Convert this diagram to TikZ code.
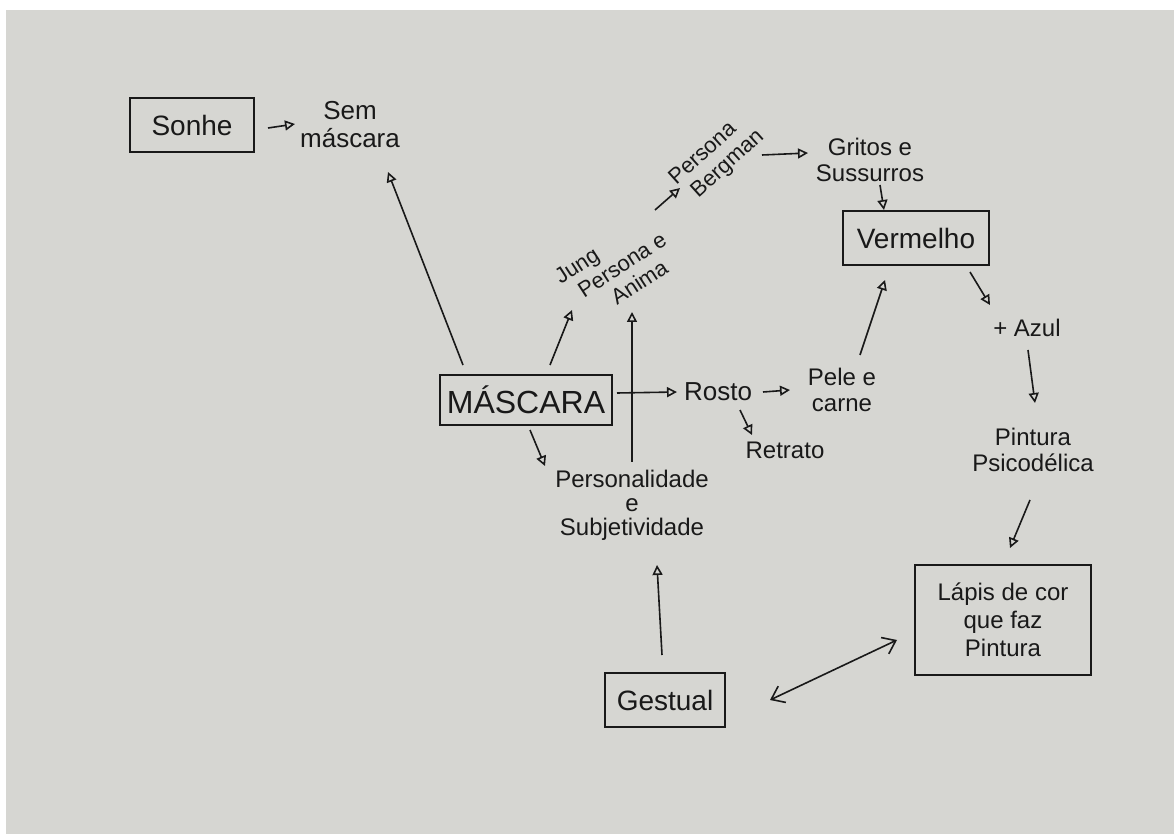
\documentclass[tikz,border=0pt]{standalone}
\usepackage{fontspec}
\setmainfont{Liberation Sans}
\usetikzlibrary{arrows.meta,calc}
\definecolor{paper}{RGB}{214,214,210}
\definecolor{ink}{RGB}{25,25,25}
\begin{document}
\begin{tikzpicture}[x=0.5pt,y=-0.5pt,
  box/.style={draw=ink, line width=0.9pt, inner sep=0pt, align=center, text=ink, font=\fontsize{14}{16}\selectfont},
  lbl/.style={align=center, text=ink, inner sep=1pt, font=\fontsize{12}{13}\selectfont},
  arr/.style={draw=ink, line width=0.8pt, -{Triangle[open,length=5pt,width=5pt]}},
  dbl/.style={draw=ink, line width=0.8pt, {Straight Barb[length=6pt,width=9pt]}-{Straight Barb[length=6pt,width=9pt]}}
]
\useasboundingbox (0,0) rectangle (1174,834);
\fill[white] (0,0) rectangle (1174,834);
\fill[paper] (6,10) rectangle (1174,834);

% nodes
\node[box, minimum width=62pt, minimum height=27pt] (sonhe) at (192,125) {Sonhe};
\node[lbl, font=\fontsize{13}{14}\selectfont] (sem) at (350,125) {Sem\\máscara};
\node[box, minimum width=86pt, minimum height=25pt, font=\fontsize{16}{18}\selectfont] (mascara) at (526,400) {MÁSCARA};
\node[lbl, rotate=33, align=left, font=\fontsize{11}{12}\selectfont] (jung) at (617,268) {Jung\\\hspace*{6pt}Persona e\\\hspace*{18pt}Anima};
\node[lbl, rotate=42, align=left, font=\fontsize{11}{12}\selectfont] (berg) at (717,158) {Persona\\\hspace*{4pt}Bergman};
\node[lbl] (gritos) at (870,160) {Gritos e\\Sussurros};
\node[box, minimum width=73pt, minimum height=27pt] (verm) at (916,238) {Vermelho};
\node[lbl, font=\fontsize{13}{14}\selectfont] (rosto) at (718,392) {Rosto};
\node[lbl] (pele) at (842,390) {Pele e\\carne};
\node[lbl] (retrato) at (785,450) {Retrato};
\node[lbl] (azul) at (1027,328) {+ Azul};
\node[lbl] (pint) at (1033,450) {Pintura\\Psicodélica};
\node[box, minimum width=88pt, minimum height=55pt, font=\fontsize{12}{14}\selectfont] (lapis) at (1003,620) {Lápis de cor\\que faz\\Pintura};
\node[lbl, font=\fontsize{12}{12}\selectfont] (pers) at (632,505) {Personalidade\\e\\Subjetividade};
\node[box, minimum width=60pt, minimum height=27pt] (gest) at (665,700) {Gestual};

% connectors
\draw[arr] ($(sonhe)+(76,3)$) -- ($(sem)+(-55,-1)$);
\draw[arr] ($(mascara)+(-63,-35)$) -- ($(sem)+(38,47)$);
\draw[arr] ($(mascara)+(24,-35)$) -- ($(jung)+(-45,42)$);
\draw[arr] ($(jung)+(38,-58)$) -- ($(berg)+(-37,30)$);
\draw[arr] ($(berg)+(45,-3)$) -- ($(gritos)+(-62,-7)$);
\draw[arr] ($(gritos)+(10,25)$) -- ($(verm)+(-32,-28)$);
\draw[arr] ($(pers)+(0,-43)$) -- ($(jung)+(15,44)$);
\draw[arr] ($(mascara)+(91,-7)$) -- ($(rosto)+(-41,0)$);
\draw[arr] ($(rosto)+(45,0)$) -- ($(pele)+(-52,0)$);
\draw[arr] ($(rosto)+(22,18)$) -- ($(retrato)+(-33,-15)$);
\draw[arr] ($(pele)+(18,-35)$) -- ($(verm)+(-31,42)$);
\draw[arr] ($(verm)+(54,34)$) -- ($(azul)+(-37,-23)$);
\draw[arr] ($(azul)+(1,22)$) -- ($(pint)+(2,-47)$);
\draw[arr] ($(pint)+(-3,50)$) -- ($(lapis)+(7,-72)$);
\draw[arr] ($(mascara)+(4,30)$) -- ($(pers)+(-87,-39)$);
\draw[arr] ($(gest)+(-3,-45)$) -- ($(pers)+(25,60)$);
\draw[dbl] ($(gest)+(105,0)$) -- ($(lapis)+(-106,20)$);
\end{tikzpicture}
\end{document}
